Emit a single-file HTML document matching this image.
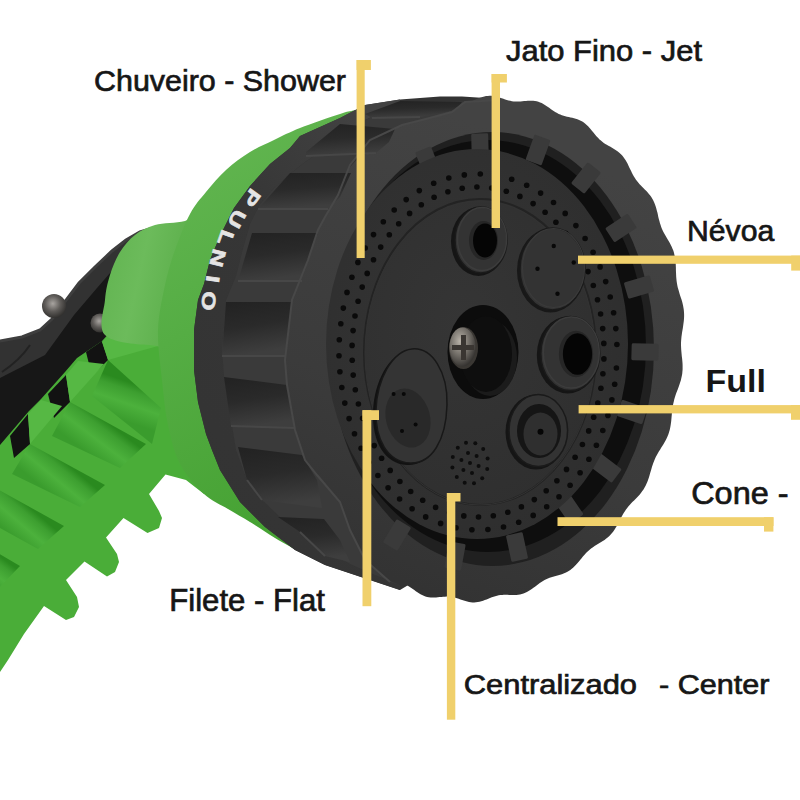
<!DOCTYPE html>
<html><head><meta charset="utf-8">
<style>
html,body{margin:0;padding:0;background:#fff;width:800px;height:800px;overflow:hidden}
svg{display:block;position:absolute;left:0;top:0}
</style></head><body>
<svg width="800" height="800" viewBox="0 0 800 800">
<defs>
<linearGradient id="gneck" x1="0" y1="0" x2="1" y2="0.3">
<stop offset="0" stop-color="#5fb24e"/><stop offset="0.45" stop-color="#6cbb5b"/><stop offset="1" stop-color="#56aa45"/></linearGradient>
<linearGradient id="gflange" x1="0" y1="0" x2="0.3" y2="1">
<stop offset="0" stop-color="#66b854"/><stop offset="0.5" stop-color="#55ad44"/><stop offset="1" stop-color="#46a233"/></linearGradient>
<linearGradient id="gcell" x1="0" y1="0" x2="1" y2="0">
<stop offset="0" stop-color="#2e9224"/><stop offset="0.55" stop-color="#4cbd3b"/><stop offset="1" stop-color="#38a22c"/></linearGradient>
<linearGradient id="ghandle" x1="0" y1="0" x2="0.6" y2="0.8">
<stop offset="0" stop-color="#3e3e3e"/><stop offset="0.45" stop-color="#333"/><stop offset="0.55" stop-color="#1a1a1a"/><stop offset="1" stop-color="#141414"/></linearGradient>
<radialGradient id="gscrew" cx="0.4" cy="0.35" r="0.7">
<stop offset="0" stop-color="#b8b2a8"/><stop offset="0.55" stop-color="#6e6a64"/><stop offset="1" stop-color="#2e2c2a"/></radialGradient>
<linearGradient id="gpocket" x1="0" y1="0" x2="0.2" y2="1"><stop offset="0" stop-color="#222"/><stop offset="0.5" stop-color="#2a2a2a"/><stop offset="1" stop-color="#3e3e3e"/></linearGradient>
<linearGradient id="grim" x1="0.3" y1="0" x2="0" y2="1"><stop offset="0" stop-color="#434343"/><stop offset="0.55" stop-color="#3b3b3b"/><stop offset="1" stop-color="#303030"/></linearGradient>
<linearGradient id="gband" x1="0.8" y1="0" x2="0.2" y2="1"><stop offset="0" stop-color="#424242"/><stop offset="0.4" stop-color="#363636"/><stop offset="1" stop-color="#333"/></linearGradient>
<radialGradient id="gbolt" cx="0.45" cy="0.4" r="0.65"><stop offset="0" stop-color="#a8a4a0"/><stop offset="0.5" stop-color="#5e5b58"/><stop offset="1" stop-color="#2a2927"/></radialGradient>
<linearGradient id="glug" x1="0" y1="0" x2="1" y2="0">
<stop offset="0" stop-color="#2c2c2c"/><stop offset="0.5" stop-color="#3a3a3a"/><stop offset="1" stop-color="#343434"/></linearGradient>
<radialGradient id="gplate" cx="0.45" cy="0.45" r="0.6">
<stop offset="0" stop-color="#353535"/><stop offset="1" stop-color="#2e2e2e"/></radialGradient>
<linearGradient id="gboss" x1="0" y1="0" x2="1" y2="1">
<stop offset="0" stop-color="#3a3a3a"/><stop offset="1" stop-color="#262626"/></linearGradient>
</defs>
<rect width="800" height="800" fill="#ffffff"/>

<polygon points="0.0,341.0 22.0,337.0 40.0,330.0 52.0,319.0 79.0,283.0 95.0,267.0 112.0,251.0 126.0,240.0 140.0,232.0 165.0,226.0 210.0,226.0 210.0,420.0 0.0,540.0" fill="#171717"/>
<polygon points="0.0,341.0 22.0,337.0 40.0,330.0 52.0,319.0 79.0,283.0 95.0,267.0 112.0,251.0 126.0,240.0 140.0,232.0 150.0,229.0 117.0,265.0 97.0,288.0 74.0,315.0 45.0,355.0 0.0,378.0" fill="#323232"/>
<polyline points="0.0,341.0 22.0,337.0 40.0,330.0 52.0,319.0 79.0,283.0 95.0,267.0 112.0,251.0 126.0,240.0 140.0,232.0 150.0,229.0" fill="none" stroke="#3e3e3e" stroke-width="3"/>
<path d="M2,372 Q20,360 30,345" stroke="#222" stroke-width="2" fill="none"/>
<circle cx="54" cy="306" r="12" fill="url(#gbolt)"/>
<circle cx="100" cy="323" r="9.5" fill="url(#gbolt)"/>
<polygon points="-20.0,470.0 0.0,445.0 29.0,411.0 41.0,399.0 65.0,372.0 77.0,358.0 102.0,341.0 112.0,330.0 160.0,330.0 175.0,420.0 200.0,470.0 204.0,494.0 186.0,480.0 165.5,474.5 149.0,494.0 159.0,511.0 162.0,518.0 159.0,528.0 147.5,533.0 123.5,518.0 106.0,537.5 117.0,554.0 119.0,562.0 115.0,572.0 107.0,576.5 84.5,561.5 66.0,580.0 77.0,597.0 79.0,607.0 74.0,617.0 66.0,620.0 44.0,606.0 24.0,634.0 8.0,660.0 0.0,672.0" fill="#4aad38"/>
<linearGradient id="gc0" gradientUnits="userSpaceOnUse" x1="134.5" y1="384.0" x2="122.0" y2="420.0"><stop offset="0" stop-color="#2a8a1f"/><stop offset="0.2" stop-color="#3d9f30"/><stop offset="0.55" stop-color="#4cb13c"/><stop offset="1" stop-color="#3a9c2d"/></linearGradient>
<polygon points="108.0,360.0 161.0,408.0 152.0,444.0 92.0,396.0" fill="url(#gc0)"/>
<linearGradient id="gc1" gradientUnits="userSpaceOnUse" x1="108.0" y1="423.0" x2="86.0" y2="452.0"><stop offset="0" stop-color="#2a8a1f"/><stop offset="0.2" stop-color="#3d9f30"/><stop offset="0.55" stop-color="#4cb13c"/><stop offset="1" stop-color="#3a9c2d"/></linearGradient>
<polygon points="70.0,402.0 146.0,444.0 120.0,468.0 52.0,436.0" fill="url(#gc1)"/>
<linearGradient id="gc2" gradientUnits="userSpaceOnUse" x1="67.5" y1="464.5" x2="46.0" y2="490.5"><stop offset="0" stop-color="#2a8a1f"/><stop offset="0.2" stop-color="#3d9f30"/><stop offset="0.55" stop-color="#4cb13c"/><stop offset="1" stop-color="#3a9c2d"/></linearGradient>
<polygon points="30.0,444.0 105.0,485.0 80.0,507.0 12.0,474.0" fill="url(#gc2)"/>
<linearGradient id="gc3" gradientUnits="userSpaceOnUse" x1="28.0" y1="506.0" x2="6.5" y2="531.5"><stop offset="0" stop-color="#2a8a1f"/><stop offset="0.2" stop-color="#3d9f30"/><stop offset="0.55" stop-color="#4cb13c"/><stop offset="1" stop-color="#3a9c2d"/></linearGradient>
<polygon points="-8.0,486.0 64.0,526.0 38.0,549.0 -25.0,514.0" fill="url(#gc3)"/>
<linearGradient id="gc4" gradientUnits="userSpaceOnUse" x1="-12.5" y1="547.0" x2="-31.5" y2="572.5"><stop offset="0" stop-color="#2a8a1f"/><stop offset="0.2" stop-color="#3d9f30"/><stop offset="0.55" stop-color="#4cb13c"/><stop offset="1" stop-color="#3a9c2d"/></linearGradient>
<polygon points="-45.0,528.0 20.0,566.0 -3.0,590.0 -60.0,555.0" fill="url(#gc4)"/>
<polygon points="86.0,352.0 102.0,341.0 108.0,360.0 92.0,376.0" fill="#121212"/>
<polygon points="48.0,394.0 66.0,375.0 70.0,402.0 54.0,418.0" fill="#121212"/>
<polygon points="10.0,436.0 28.0,414.0 30.0,444.0 14.0,458.0" fill="#121212"/>
<polygon points="-20.0,478.0 -8.0,456.0 -8.0,486.0 -20.0,496.0" fill="#121212"/>
<polygon points="102.0,342.0 113.0,330.0 156.0,332.0 158.0,346.0 108.0,360.0" fill="#56b844"/>
<polygon points="66.0,375.0 78.0,361.0 104.0,364.0 70.0,402.0" fill="#56b844"/>
<polygon points="28.0,414.0 41.0,400.0 62.0,406.0 30.0,444.0" fill="#56b844"/>
<path d="M105.0,335.0 C97.5,327.5 104.2,310.0 105.0,300.0 C105.8,290.0 107.5,283.0 110.0,275.0 C112.5,267.0 115.8,258.7 120.0,252.0 C124.2,245.3 129.2,239.5 135.0,235.0 C140.8,230.5 146.7,227.3 155.0,225.0 C163.3,222.7 175.8,223.2 185.0,221.0 C194.2,218.8 207.5,192.2 210.0,212.0 C212.5,231.8 210.0,317.8 200.0,340.0 C190.0,362.2 165.8,345.8 150.0,345.0 C134.2,344.2 112.5,342.5 105.0,335.0Z" fill="url(#gneck)"/>
<path d="M392.0,104.0 C386.0,105.0 364.7,108.3 356.0,110.0 C347.3,111.7 349.3,111.0 340.0,114.0 C330.7,117.0 311.0,123.7 300.0,128.0 C289.0,132.3 282.3,136.0 274.0,140.0 C265.7,144.0 258.0,147.0 250.0,152.0 C242.0,157.0 233.3,163.3 226.0,170.0 C218.7,176.7 212.0,184.7 206.0,192.0 C200.0,199.3 195.2,204.3 190.0,214.0 C184.8,223.7 179.2,238.2 175.0,250.0 C170.8,261.8 167.8,271.7 165.0,285.0 C162.2,298.3 158.5,314.2 158.0,330.0 C157.5,345.8 160.3,364.2 162.0,380.0 C163.7,395.8 165.0,411.0 168.0,425.0 C171.0,439.0 174.0,452.5 180.0,464.0 C186.0,475.5 196.0,486.5 204.0,494.0 C212.0,501.5 220.3,504.3 228.0,509.0 C235.7,513.7 242.2,517.2 250.0,522.0 C257.8,526.8 266.7,533.0 275.0,538.0 C283.3,543.0 295.8,549.7 300.0,552.0 L330,500 L300,300 L380,140 Z" fill="url(#gflange)"/>
<polygon points="440.0,96.5 400.0,99.5 365.0,105.0 340.0,118.0 300.0,136.0 290.0,148.0 270.0,164.0 250.0,186.0 234.0,208.0 220.0,236.0 210.0,260.0 204.0,284.0 198.0,300.0 194.0,330.0 194.0,370.0 198.0,402.0 206.0,434.0 212.0,450.0 220.0,470.0 240.0,502.0 265.0,527.0 295.0,550.0 325.0,565.0 355.0,575.0 400.0,590.0 450.0,560.0 490.0,140.0 485.0,98.0 462.0,96.5" fill="#333"/>
<path d="M681.8,376.1 L681.3,378.3 L680.8,380.5 L680.1,382.6 L679.4,384.7 L678.7,386.8 L677.9,388.9 L677.1,391.0 L676.3,393.0 L675.6,395.1 L674.9,397.2 L674.3,399.3 L673.8,401.4 L673.3,403.5 L672.9,405.6 L672.5,407.8 L672.3,410.0 L672.0,412.2 L671.8,414.4 L671.6,416.7 L671.4,418.9 L671.2,421.2 L670.9,423.4 L670.6,425.6 L670.2,427.8 L669.7,430.0 L669.1,432.1 L668.4,434.2 L667.6,436.2 L666.7,438.2 L665.7,440.2 L664.7,442.1 L663.6,443.9 L662.5,445.8 L661.3,447.6 L660.2,449.4 L659.0,451.2 L658.0,453.1 L656.9,454.9 L655.9,456.8 L655.0,458.7 L654.2,460.7 L653.4,462.7 L652.7,464.7 L652.0,466.8 L651.4,468.9 L650.8,471.1 L650.1,473.2 L649.5,475.4 L648.9,477.5 L648.2,479.6 L647.4,481.7 L646.5,483.7 L645.6,485.7 L644.6,487.6 L643.5,489.4 L642.3,491.1 L641.1,492.8 L639.8,494.4 L638.4,496.0 L637.0,497.5 L635.5,498.9 L634.1,500.4 L632.6,501.8 L631.2,503.3 L629.9,504.8 L628.5,506.3 L627.2,507.9 L626.0,509.5 L624.9,511.2 L623.7,513.0 L622.7,514.8 L621.6,516.7 L620.6,518.6 L619.6,520.5 L618.6,522.4 L617.6,524.4 L616.6,526.3 L615.5,528.1 L614.3,529.9 L613.1,531.7 L611.8,533.3 L610.5,534.8 L609.1,536.2 L607.6,537.6 L606.0,538.8 L604.5,540.0 L602.8,541.1 L601.2,542.1 L599.5,543.1 L597.9,544.1 L596.2,545.1 L594.6,546.1 L593.0,547.2 L591.4,548.3 L589.9,549.5 L588.5,550.8 L587.0,552.1 L585.6,553.6 L584.3,555.1 L582.9,556.6 L581.6,558.2 L580.3,559.8 L578.9,561.4 L577.6,563.0 L576.2,564.6 L574.8,566.0 L573.3,567.4 L571.8,568.7 L570.3,569.9 L568.7,571.0 L567.0,572.0 L565.4,572.8 L563.6,573.5 L561.9,574.2 L560.1,574.7 L558.4,575.3 L556.6,575.7 L554.8,576.2 L553.0,576.7 L551.3,577.3 L549.6,577.8 L547.9,578.5 L546.2,579.3 L544.6,580.1 L543.0,581.0 L541.4,582.0 L539.8,583.1 L538.2,584.3 L536.6,585.5 L535.0,586.7 L533.4,587.8 L531.8,589.0 L530.2,590.1 L528.6,591.1 L526.9,592.0 L525.2,592.8 L523.5,593.5 L521.8,594.0 L520.0,594.4 L518.2,594.7 L516.4,594.9 L514.6,594.9 L512.8,595.0 L511.0,594.9 L509.2,594.9 L507.5,594.8 L505.7,594.8 L503.9,594.8 L502.2,594.9 L500.4,595.1 L498.7,595.3 L497.0,595.7 L495.2,596.2 L493.5,596.7 L491.8,597.3 L490.0,598.0 L488.3,598.7 L486.6,599.4 L484.8,600.1 L483.1,600.7 L481.3,601.3 L479.5,601.8 L477.8,602.1 L476.0,602.3 L474.2,602.4 L472.5,602.4 L470.7,602.2 L469.0,602.0 L467.2,601.6 L465.5,601.1 L463.8,600.5 L462.1,600.0 L460.4,599.4 L458.7,598.8 L457.0,598.2 L455.3,597.8 L453.6,597.4 L451.9,597.0 L450.2,596.8 L448.4,596.7 L446.7,596.6 L444.9,596.7 L443.2,596.8 L441.4,596.9 L439.6,597.1 L437.8,597.3 L436.0,597.4 L434.2,597.5 L432.4,597.5 L430.6,597.4 L428.8,597.2 L427.1,596.9 L425.4,596.4 L423.7,595.8 L422.1,595.1 L420.5,594.2 L418.9,593.3 L417.4,592.3 L415.8,591.2 L414.3,590.1 L412.8,589.0 L411.3,587.9 L409.8,586.9 L408.2,586.0 L406.7,585.1 L405.1,584.3 L403.5,583.6 L401.9,582.9 L400.2,582.4 L398.5,581.9 L396.8,581.5 L395.0,581.2 L393.3,580.8 L391.5,580.4 L389.8,580.0 L388.1,579.5 L386.4,579.0 L384.7,578.3 L383.1,577.5 L381.5,576.6 L380.0,575.6 L378.5,574.5 L377.1,573.2 L375.7,571.9 L374.4,570.5 L373.1,569.0 L371.9,567.5 L370.6,566.0 L369.4,564.4 L368.2,562.9 L366.9,561.5 L365.6,560.1 L364.3,558.8 L362.9,557.6 L361.5,556.4 L360.0,555.3 L358.5,554.3 L357.0,553.4 L355.4,552.5 L353.8,551.6 L352.2,550.7 L350.6,549.8 L349.0,548.8 L347.5,547.8 L346.0,546.7 L344.5,545.5 L343.1,544.3 L341.8,542.9 L340.6,541.4 L339.4,539.8 L338.3,538.1 L337.3,536.4 L336.3,534.6 L335.4,532.7 L334.5,530.8 L333.6,529.0 L332.7,527.1 L331.8,525.3 L330.9,523.5 L329.9,521.7 L328.9,520.1 L327.8,518.5 L326.6,516.9 L325.4,515.4 L324.2,514.0 L322.9,512.6 L321.5,511.3 L320.2,509.9 L318.8,508.5 L317.4,507.2 L316.1,505.7 L314.9,504.2 L313.6,502.7 L312.5,501.1 L311.5,499.4 L310.5,497.6 L309.6,495.7 L308.8,493.8 L308.1,491.8 L307.5,489.8 L307.0,487.7 L306.4,485.6 L305.9,483.5 L305.5,481.3 L305.0,479.2 L304.4,477.2 L303.9,475.1 L303.2,473.1 L302.6,471.2 L301.8,469.3 L301.0,467.5 L300.1,465.6 L299.1,463.9 L298.1,462.1 L297.1,460.4 L296.1,458.6 L295.0,456.9 L294.0,455.1 L293.0,453.3 L292.1,451.4 L291.3,449.5 L290.5,447.6 L289.9,445.6 L289.4,443.5 L288.9,441.4 L288.6,439.3 L288.3,437.1 L288.1,434.9 L288.0,432.6 L287.9,430.4 L287.9,428.1 L287.8,425.9 L287.7,423.7 L287.6,421.5 L287.4,419.3 L287.2,417.2 L286.9,415.1 L286.5,413.0 L286.1,410.9 L285.5,408.9 L284.9,406.9 L284.3,404.8 L283.7,402.8 L283.0,400.8 L282.3,398.7 L281.7,396.7 L281.2,394.6 L280.7,392.5 L280.3,390.3 L280.0,388.2 L279.8,386.0 L279.7,383.8 L279.7,381.6 L279.8,379.4 L280.0,377.1 L280.3,374.9 L280.6,372.7 L280.9,370.4 L281.3,368.2 L281.7,366.0 L282.0,363.8 L282.3,361.6 L282.5,359.4 L282.7,357.2 L282.8,355.1 L282.8,352.9 L282.7,350.7 L282.6,348.6 L282.4,346.4 L282.2,344.2 L282.0,342.0 L281.7,339.8 L281.5,337.6 L281.3,335.3 L281.2,333.1 L281.2,330.9 L281.2,328.7 L281.4,326.5 L281.6,324.3 L282.0,322.1 L282.5,319.9 L283.0,317.7 L283.7,315.6 L284.4,313.5 L285.1,311.4 L285.9,309.3 L286.7,307.2 L287.5,305.2 L288.2,303.1 L288.9,301.0 L289.5,298.9 L290.0,296.8 L290.5,294.7 L290.9,292.6 L291.3,290.4 L291.5,288.2 L291.8,286.0 L292.0,283.8 L292.2,281.5 L292.4,279.3 L292.6,277.0 L292.9,274.8 L293.2,272.6 L293.6,270.4 L294.1,268.2 L294.7,266.1 L295.4,264.0 L296.2,262.0 L297.1,260.0 L298.1,258.0 L299.1,256.1 L300.2,254.3 L301.3,252.4 L302.5,250.6 L303.6,248.8 L304.8,247.0 L305.8,245.1 L306.9,243.3 L307.9,241.4 L308.8,239.5 L309.6,237.5 L310.4,235.5 L311.1,233.5 L311.8,231.4 L312.4,229.3 L313.0,227.1 L313.7,225.0 L314.3,222.8 L314.9,220.7 L315.6,218.6 L316.4,216.5 L317.3,214.5 L318.2,212.5 L319.2,210.6 L320.3,208.8 L321.5,207.1 L322.7,205.4 L324.0,203.8 L325.4,202.2 L326.8,200.7 L328.3,199.3 L329.7,197.8 L331.2,196.4 L332.6,194.9 L333.9,193.4 L335.3,191.9 L336.6,190.3 L337.8,188.7 L338.9,187.0 L340.1,185.2 L341.1,183.4 L342.2,181.5 L343.2,179.6 L344.2,177.7 L345.2,175.8 L346.2,173.8 L347.2,171.9 L348.3,170.1 L349.5,168.3 L350.7,166.5 L352.0,164.9 L353.3,163.4 L354.7,162.0 L356.2,160.6 L357.8,159.4 L359.3,158.2 L361.0,157.1 L362.6,156.1 L364.3,155.1 L365.9,154.1 L367.6,153.1 L369.2,152.1 L370.8,151.0 L372.4,149.9 L373.9,148.7 L375.3,147.4 L376.8,146.1 L378.2,144.6 L379.5,143.1 L380.9,141.6 L382.2,140.0 L383.5,138.4 L384.9,136.8 L386.2,135.2 L387.6,133.6 L389.0,132.2 L390.5,130.8 L392.0,129.5 L393.5,128.3 L395.1,127.2 L396.8,126.2 L398.4,125.4 L400.2,124.7 L401.9,124.0 L403.7,123.5 L405.4,122.9 L407.2,122.5 L409.0,122.0 L410.8,121.5 L412.5,120.9 L414.2,120.4 L415.9,119.7 L417.6,118.9 L419.2,118.1 L420.8,117.2 L422.4,116.2 L424.0,115.1 L425.6,113.9 L427.2,112.7 L428.8,111.5 L430.4,110.4 L432.0,109.2 L433.6,108.1 L435.2,107.1 L436.9,106.2 L438.6,105.4 L440.3,104.7 L442.0,104.2 L443.8,103.8 L445.6,103.5 L447.4,103.3 L449.2,103.3 L451.0,103.2 L452.8,103.3 L454.6,103.3 L456.3,103.4 L458.1,103.4 L459.9,103.4 L461.6,103.3 L463.4,103.1 L465.1,102.9 L466.8,102.5 L468.6,102.0 L470.3,101.5 L472.0,100.9 L473.8,100.2 L475.5,99.5 L477.2,98.8 L479.0,98.1 L480.7,97.5 L482.5,96.9 L484.3,96.4 L486.0,96.1 L487.8,95.9 L489.6,95.8 L491.3,95.8 L493.1,96.0 L494.8,96.2 L496.6,96.6 L498.3,97.1 L500.0,97.7 L501.7,98.2 L503.4,98.8 L505.1,99.4 L506.8,100.0 L508.5,100.4 L510.2,100.8 L511.9,101.2 L513.6,101.4 L515.4,101.5 L517.1,101.6 L518.9,101.5 L520.6,101.4 L522.4,101.3 L524.2,101.1 L526.0,100.9 L527.8,100.8 L529.6,100.7 L531.4,100.7 L533.2,100.8 L535.0,101.0 L536.7,101.3 L538.4,101.8 L540.1,102.4 L541.7,103.1 L543.3,104.0 L544.9,104.9 L546.4,105.9 L548.0,107.0 L549.5,108.1 L551.0,109.2 L552.5,110.3 L554.0,111.3 L555.6,112.2 L557.1,113.1 L558.7,113.9 L560.3,114.6 L561.9,115.3 L563.6,115.8 L565.3,116.3 L567.0,116.7 L568.8,117.0 L570.5,117.4 L572.3,117.8 L574.0,118.2 L575.7,118.7 L577.4,119.2 L579.1,119.9 L580.7,120.7 L582.3,121.6 L583.8,122.6 L585.3,123.7 L586.7,125.0 L588.1,126.3 L589.4,127.7 L590.7,129.2 L591.9,130.7 L593.2,132.2 L594.4,133.8 L595.6,135.3 L596.9,136.7 L598.2,138.1 L599.5,139.4 L600.9,140.6 L602.3,141.8 L603.8,142.9 L605.3,143.9 L606.8,144.8 L608.4,145.7 L610.0,146.6 L611.6,147.5 L613.2,148.4 L614.8,149.4 L616.3,150.4 L617.8,151.5 L619.3,152.7 L620.7,153.9 L622.0,155.3 L623.2,156.8 L624.4,158.4 L625.5,160.1 L626.5,161.8 L627.5,163.6 L628.4,165.5 L629.3,167.4 L630.2,169.2 L631.1,171.1 L632.0,172.9 L632.9,174.7 L633.9,176.5 L634.9,178.1 L636.0,179.7 L637.2,181.3 L638.4,182.8 L639.6,184.2 L640.9,185.6 L642.3,186.9 L643.6,188.3 L645.0,189.7 L646.4,191.0 L647.7,192.5 L648.9,194.0 L650.2,195.5 L651.3,197.1 L652.3,198.8 L653.3,200.6 L654.2,202.5 L655.0,204.4 L655.7,206.4 L656.3,208.4 L656.8,210.5 L657.4,212.6 L657.9,214.7 L658.3,216.9 L658.8,219.0 L659.4,221.0 L659.9,223.1 L660.6,225.1 L661.2,227.0 L662.0,228.9 L662.8,230.7 L663.7,232.6 L664.7,234.3 L665.7,236.1 L666.7,237.8 L667.7,239.6 L668.8,241.3 L669.8,243.1 L670.8,244.9 L671.7,246.8 L672.5,248.7 L673.3,250.6 L673.9,252.6 L674.4,254.7 L674.9,256.8 L675.2,258.9 L675.5,261.1 L675.7,263.3 L675.8,265.6 L675.9,267.8 L675.9,270.1 L676.0,272.3 L676.1,274.5 L676.2,276.7 L676.4,278.9 L676.6,281.0 L676.9,283.1 L677.3,285.2 L677.7,287.3 L678.3,289.3 L678.9,291.3 L679.5,293.4 L680.1,295.4 L680.8,297.4 L681.5,299.5 L682.1,301.5 L682.6,303.6 L683.1,305.7 L683.5,307.9 L683.8,310.0 L684.0,312.2 L684.1,314.4 L684.1,316.6 L684.0,318.8 L683.8,321.1 L683.5,323.3 L683.2,325.5 L682.9,327.8 L682.5,330.0 L682.1,332.2 L681.8,334.4 L681.5,336.6 L681.3,338.8 L681.1,341.0 L681.0,343.1 L681.0,345.3 L681.1,347.5 L681.2,349.6 L681.4,351.8 L681.6,354.0 L681.8,356.2 L682.1,358.4 L682.3,360.6 L682.5,362.9 L682.6,365.1 L682.6,367.3 L682.6,369.5 L682.4,371.7 L682.2,373.9Z" fill="url(#grim)"/>
<polygon points="400.0,99.5 365.0,105.0 340.0,118.0 300.0,136.0 290.0,148.0 270.0,164.0 250.0,186.0 234.0,208.0 220.0,236.0 210.0,260.0 204.0,284.0 198.0,300.0 194.0,330.0 194.0,370.0 198.0,402.0 206.0,434.0 212.0,450.0 220.0,470.0 240.0,502.0 265.0,527.0 295.0,550.0 325.0,565.0 355.0,575.0 400.0,590.0 400.0,585.0 375.0,575.0 350.0,564.0 325.0,550.0 300.0,532.0 280.0,517.0 262.0,500.0 247.0,480.0 236.0,450.0 230.0,414.0 224.0,376.0 222.0,350.0 226.0,300.0 236.0,276.0 242.0,252.0 250.0,224.0 260.0,204.0 274.0,188.0 290.0,174.0 305.0,162.0 330.0,145.0 365.0,120.0 400.0,104.0" fill="url(#gband)"/>
<polygon points="400.0,104.0 365.0,120.0 330.0,145.0 305.0,162.0 290.0,174.0 274.0,188.0 260.0,204.0 250.0,224.0 242.0,252.0 236.0,276.0 226.0,300.0 222.0,350.0 224.0,376.0 230.0,414.0 236.0,450.0 247.0,480.0 262.0,500.0 280.0,517.0 300.0,532.0 325.0,550.0 350.0,564.0 375.0,575.0 400.0,585.0 390.0,582.0 365.0,560.0 350.0,530.0 340.0,502.0 317.0,475.0 305.0,460.0 295.0,430.0 287.0,385.0 285.0,360.0 292.0,300.0 308.0,260.0 318.0,230.0 325.0,217.0 338.0,195.0 350.0,165.0 370.0,140.0 402.0,125.0 422.0,120.0 452.0,112.0 465.0,102.0 500.0,100.0" fill="#3a3a3a"/>
<polygon points="365.0,114.0 400.0,101.0 462.0,102.0 456.0,110.0 420.0,117.0 372.0,118.0" fill="url(#gpocket)"/>
<polyline points="420.0,117.0 372.0,118.0" stroke="#474747" stroke-width="2" fill="none"/>
<polygon points="306.0,152.0 340.0,124.0 395.0,129.0 389.0,142.0 376.0,153.0 306.0,156.0" fill="url(#gpocket)"/>
<polyline points="376.0,153.0 306.0,156.0" stroke="#474747" stroke-width="2" fill="none"/>
<polygon points="290.0,173.0 351.0,173.0 340.0,197.0 328.0,209.0 258.0,209.0" fill="url(#gpocket)"/>
<polyline points="328.0,209.0 258.0,209.0" stroke="#474747" stroke-width="2" fill="none"/>
<polygon points="252.0,233.0 318.0,233.0 308.0,258.0 302.0,281.0 238.0,281.0" fill="url(#gpocket)"/>
<polyline points="302.0,281.0 238.0,281.0" stroke="#474747" stroke-width="2" fill="none"/>
<polygon points="226.0,302.0 292.0,302.0 285.0,356.0 222.0,356.0" fill="url(#gpocket)"/>
<polyline points="285.0,356.0 222.0,356.0" stroke="#474747" stroke-width="2" fill="none"/>
<polygon points="224.0,377.0 287.0,385.0 295.0,428.0 231.0,426.0" fill="url(#gpocket)"/>
<polyline points="295.0,428.0 231.0,426.0" stroke="#474747" stroke-width="2" fill="none"/>
<polygon points="238.0,447.0 302.0,455.0 317.0,480.0 322.0,508.0 262.0,500.0 247.0,480.0" fill="url(#gpocket)"/>
<polyline points="262.0,500.0 247.0,480.0" stroke="#474747" stroke-width="2" fill="none"/>
<polygon points="278.0,517.0 324.0,519.0 340.0,540.0 350.0,562.0 325.0,556.0 300.0,532.0" fill="url(#gpocket)"/>
<polyline points="325.0,556.0 300.0,532.0" stroke="#474747" stroke-width="2" fill="none"/>
<polyline points="500.0,100.0 465.0,102.0 452.0,112.0 422.0,120.0 402.0,125.0 370.0,140.0 350.0,165.0 338.0,195.0 325.0,217.0 318.0,230.0 308.0,260.0 292.0,300.0 285.0,360.0 287.0,385.0 295.0,430.0 305.0,460.0 317.0,475.0 340.0,502.0 350.0,530.0 365.0,560.0 390.0,582.0" stroke="#484848" stroke-width="2" fill="none"/>
<ellipse cx="492" cy="349" rx="162" ry="217" fill="#202020"/>
<ellipse cx="488" cy="346" rx="158" ry="206" fill="#0e0e0e"/>
<rect x="419.5" y="148.5" width="17" height="27" rx="1.5" fill="#3a3a3a" transform="rotate(-201.8 428.0 162.0)"/>
<rect x="471.5" y="133.5" width="17" height="27" rx="1.5" fill="#3a3a3a" transform="rotate(-181.5 480.0 147.0)"/>
<rect x="529.5" y="136.5" width="17" height="27" rx="1.5" fill="#3a3a3a" transform="rotate(-160.1 538.0 150.0)"/>
<rect x="577.5" y="164.5" width="17" height="27" rx="1.5" fill="#3a3a3a" transform="rotate(-141.5 586.0 178.0)"/>
<rect x="612.5" y="214.5" width="17" height="27" rx="1.5" fill="#3a3a3a" transform="rotate(-123.3 621.0 228.0)"/>
<rect x="630.5" y="273.5" width="17" height="27" rx="1.5" fill="#3a3a3a" transform="rotate(-106.2 639.0 287.0)"/>
<rect x="636.5" y="338.5" width="17" height="27" rx="1.5" fill="#3a3a3a" transform="rotate(-88.4 645.0 352.0)"/>
<rect x="623.5" y="398.5" width="17" height="27" rx="1.5" fill="#3a3a3a" transform="rotate(-71.2 632.0 412.0)"/>
<rect x="597.5" y="454.5" width="17" height="27" rx="1.5" fill="#3a3a3a" transform="rotate(-52.7 606.0 468.0)"/>
<rect x="560.5" y="494.5" width="17" height="27" rx="1.5" fill="#3a3a3a" transform="rotate(-34.5 569.0 508.0)"/>
<rect x="508.5" y="533.5" width="17" height="27" rx="1.5" fill="#3a3a3a" transform="rotate(-12.2 517.0 547.0)"/>
<rect x="446.5" y="542.5" width="17" height="27" rx="1.5" fill="#3a3a3a" transform="rotate(10.3 455.0 556.0)"/>
<rect x="388.5" y="521.5" width="17" height="27" rx="1.5" fill="#3a3a3a" transform="rotate(31.1 397.0 535.0)"/>
<ellipse cx="477" cy="344" rx="151" ry="195" fill="url(#gplate)"/>
<ellipse cx="480" cy="352" rx="116" ry="153" fill="none" stroke="#232323" stroke-width="2"/>
<ellipse cx="480" cy="353" rx="115" ry="152" fill="none" stroke="#333" stroke-width="1"/>
<g fill="#0a0a0a"><circle cx="616.4" cy="368.0" r="2.8"/><circle cx="614.7" cy="384.3" r="2.8"/><circle cx="611.9" cy="399.9" r="2.8"/><circle cx="607.9" cy="415.4" r="2.8"/><circle cx="602.8" cy="430.5" r="2.8"/><circle cx="596.4" cy="445.2" r="2.8"/><circle cx="588.9" cy="459.3" r="2.8"/><circle cx="580.1" cy="472.8" r="2.8"/><circle cx="570.1" cy="485.3" r="2.8"/><circle cx="559.0" cy="496.7" r="2.8"/><circle cx="546.7" cy="506.7" r="2.8"/><circle cx="533.2" cy="515.4" r="2.8"/><circle cx="518.7" cy="522.2" r="2.8"/><circle cx="503.5" cy="527.0" r="2.8"/><circle cx="487.9" cy="529.5" r="2.8"/><circle cx="471.9" cy="529.8" r="2.8"/><circle cx="456.0" cy="527.7" r="2.8"/><circle cx="440.6" cy="523.4" r="2.8"/><circle cx="425.7" cy="516.9" r="2.8"/><circle cx="412.1" cy="508.7" r="2.8"/><circle cx="399.6" cy="499.0" r="2.8"/><circle cx="388.1" cy="487.7" r="2.8"/><circle cx="377.9" cy="475.5" r="2.8"/><circle cx="368.9" cy="462.3" r="2.8"/><circle cx="361.1" cy="448.3" r="2.8"/><circle cx="354.5" cy="433.8" r="2.8"/><circle cx="349.1" cy="418.6" r="2.8"/><circle cx="344.8" cy="403.1" r="2.8"/><circle cx="341.8" cy="387.5" r="2.8"/><circle cx="339.9" cy="371.7" r="2.8"/><circle cx="339.0" cy="355.7" r="2.8"/><circle cx="339.3" cy="339.7" r="2.8"/><circle cx="340.8" cy="323.8" r="2.8"/><circle cx="343.3" cy="308.1" r="2.8"/><circle cx="347.0" cy="292.4" r="2.8"/><circle cx="351.9" cy="277.2" r="2.8"/><circle cx="357.9" cy="262.4" r="2.8"/><circle cx="365.2" cy="248.0" r="2.8"/><circle cx="373.5" cy="234.6" r="2.8"/><circle cx="383.3" cy="221.7" r="2.8"/><circle cx="394.2" cy="210.0" r="2.8"/><circle cx="406.2" cy="199.6" r="2.8"/><circle cx="419.3" cy="190.6" r="2.8"/><circle cx="433.7" cy="183.3" r="2.8"/><circle cx="448.8" cy="178.0" r="2.8"/><circle cx="464.3" cy="174.9" r="2.8"/><circle cx="480.3" cy="174.0" r="2.8"/><circle cx="496.3" cy="175.5" r="2.8"/><circle cx="511.7" cy="179.3" r="2.8"/><circle cx="526.7" cy="185.3" r="2.8"/><circle cx="540.6" cy="193.1" r="2.8"/><circle cx="553.5" cy="202.5" r="2.8"/><circle cx="565.2" cy="213.4" r="2.8"/><circle cx="575.9" cy="225.6" r="2.8"/><circle cx="585.1" cy="238.5" r="2.8"/><circle cx="593.1" cy="252.3" r="2.8"/><circle cx="600.1" cy="266.9" r="2.8"/><circle cx="605.7" cy="281.6" r="2.8"/><circle cx="610.2" cy="297.0" r="2.8"/><circle cx="613.6" cy="312.8" r="2.8"/><circle cx="615.8" cy="328.6" r="2.8"/><circle cx="616.9" cy="344.5" r="2.8"/><circle cx="603.9" cy="358.9" r="2.8"/><circle cx="602.9" cy="373.7" r="2.8"/><circle cx="600.9" cy="388.3" r="2.8"/><circle cx="597.8" cy="403.0" r="2.8"/><circle cx="593.7" cy="417.2" r="2.8"/><circle cx="588.7" cy="430.9" r="2.8"/><circle cx="582.4" cy="444.5" r="2.8"/><circle cx="575.1" cy="457.2" r="2.8"/><circle cx="566.5" cy="469.4" r="2.8"/><circle cx="556.9" cy="480.7" r="2.8"/><circle cx="546.2" cy="490.8" r="2.8"/><circle cx="534.3" cy="499.6" r="2.8"/><circle cx="521.4" cy="506.9" r="2.8"/><circle cx="507.8" cy="512.3" r="2.8"/><circle cx="493.3" cy="515.8" r="2.8"/><circle cx="478.5" cy="517.0" r="2.8"/><circle cx="463.8" cy="515.9" r="2.8"/><circle cx="449.5" cy="512.7" r="2.8"/><circle cx="435.6" cy="507.4" r="2.8"/><circle cx="422.7" cy="500.3" r="2.8"/><circle cx="410.7" cy="491.5" r="2.8"/><circle cx="399.9" cy="481.5" r="2.8"/><circle cx="390.2" cy="470.4" r="2.8"/><circle cx="381.6" cy="458.2" r="2.8"/><circle cx="374.2" cy="445.6" r="2.8"/><circle cx="367.8" cy="432.1" r="2.8"/><circle cx="362.6" cy="418.2" r="2.8"/><circle cx="358.4" cy="404.0" r="2.8"/><circle cx="355.3" cy="389.7" r="2.8"/><circle cx="353.2" cy="375.1" r="2.8"/><circle cx="352.2" cy="360.3" r="2.8"/><circle cx="352.1" cy="345.4" r="2.8"/><circle cx="353.1" cy="330.6" r="2.8"/><circle cx="355.0" cy="316.0" r="2.8"/><circle cx="358.1" cy="301.3" r="2.8"/><circle cx="362.2" cy="287.1" r="2.8"/><circle cx="367.2" cy="273.4" r="2.8"/><circle cx="373.5" cy="259.8" r="2.8"/><circle cx="380.7" cy="247.1" r="2.8"/><circle cx="389.3" cy="234.8" r="2.8"/><circle cx="398.7" cy="223.8" r="2.8"/><circle cx="409.6" cy="213.4" r="2.8"/><circle cx="421.3" cy="204.7" r="2.8"/><circle cx="434.1" cy="197.3" r="2.8"/><circle cx="447.9" cy="191.8" r="2.8"/><circle cx="462.2" cy="188.3" r="2.8"/><circle cx="476.9" cy="187.0" r="2.8"/><circle cx="491.7" cy="188.0" r="2.8"/><circle cx="506.3" cy="191.2" r="2.8"/><circle cx="519.9" cy="196.4" r="2.8"/><circle cx="533.1" cy="203.6" r="2.8"/><circle cx="545.1" cy="212.3" r="2.8"/><circle cx="555.9" cy="222.3" r="2.8"/><circle cx="565.6" cy="233.4" r="2.8"/><circle cx="574.2" cy="245.5" r="2.8"/><circle cx="581.6" cy="258.1" r="2.8"/><circle cx="588.0" cy="271.6" r="2.8"/><circle cx="593.3" cy="285.5" r="2.8"/><circle cx="597.5" cy="299.7" r="2.8"/><circle cx="600.6" cy="314.0" r="2.8"/><circle cx="602.7" cy="328.6" r="2.8"/><circle cx="603.8" cy="343.4" r="2.8"/></g>
<g fill="#0d0d0d"><circle cx="470.0" cy="463.0" r="2"/><circle cx="478.6" cy="466.1" r="2"/><circle cx="472.0" cy="473.1" r="2"/><circle cx="463.4" cy="470.0" r="2"/><circle cx="461.4" cy="459.9" r="2"/><circle cx="468.0" cy="452.9" r="2"/><circle cx="476.6" cy="456.0" r="2"/><circle cx="487.2" cy="469.1" r="2"/><circle cx="482.2" cy="478.2" r="2"/><circle cx="474.0" cy="483.2" r="2"/><circle cx="464.7" cy="482.8" r="2"/><circle cx="456.8" cy="477.1" r="2"/><circle cx="452.4" cy="467.6" r="2"/><circle cx="452.8" cy="456.9" r="2"/><circle cx="457.8" cy="447.8" r="2"/><circle cx="466.0" cy="442.8" r="2"/><circle cx="475.3" cy="443.2" r="2"/><circle cx="483.2" cy="448.9" r="2"/><circle cx="487.6" cy="458.4" r="2"/></g>
<ellipse cx="478.5" cy="241.5" rx="27.5" ry="34.5" fill="#151515"/>
<ellipse cx="481" cy="240" rx="26" ry="33" fill="#333" stroke="#1a1a1a" stroke-width="1.5"/>
<ellipse cx="482" cy="239" rx="24.5" ry="31.5" fill="none" stroke="#3c3c3c" stroke-width="1.5"/>
<ellipse cx="483.5" cy="240.5" rx="14.5" ry="19.5" fill="#262626"/>
<ellipse cx="485" cy="240.5" rx="12" ry="17" fill="#050505"/>
<ellipse cx="550.5" cy="270.5" rx="33.5" ry="42" fill="#181818"/><ellipse cx="552.5" cy="269" rx="32.5" ry="41" fill="#333" stroke="#1a1a1a" stroke-width="1.5"/><ellipse cx="553.5" cy="268" rx="31" ry="39.5" fill="none" stroke="#3a3a3a" stroke-width="1.2"/>
<circle cx="553.75" cy="246" r="2.2" fill="#080808"/>
<circle cx="537.5" cy="268.75" r="2.2" fill="#080808"/>
<circle cx="557.5" cy="293.75" r="2.2" fill="#080808"/>
<circle cx="573.75" cy="262.5" r="2.2" fill="#080808"/>
<ellipse cx="483" cy="352" rx="35.5" ry="47" fill="#0c0c0c"/><ellipse cx="490" cy="358" rx="27" ry="38" fill="#1b1b1b"/><ellipse cx="486" cy="354" rx="26" ry="38" fill="#0e0e0e"/>
<ellipse cx="463.5" cy="348" rx="14.5" ry="21" fill="#3a3733"/><ellipse cx="462.5" cy="347" rx="13" ry="19.5" fill="url(#gscrew)"/>
<path d="M452,345 L474,345 L474,350 L452,350 Z M461,335 L466,335 L466,360 L461,360 Z" fill="#3a3632"/>
<ellipse cx="567.8" cy="355.0" rx="31.0" ry="38.5" fill="#151515"/>
<ellipse cx="570.3" cy="353.5" rx="29.5" ry="37" fill="#333" stroke="#1a1a1a" stroke-width="1.5"/>
<ellipse cx="571.3" cy="352.5" rx="28.0" ry="35.5" fill="none" stroke="#3c3c3c" stroke-width="1.5"/>
<ellipse cx="576.0" cy="354" rx="17.1" ry="23.3" fill="#262626"/>
<ellipse cx="577.5" cy="354" rx="14.6" ry="20.8" fill="#050505"/>
<path d="M412,349 C432,347 448,372 447,405 C446,440 432,464 410,463 C388,462 375,440 376,410 C377,380 392,351 412,349 Z" fill="#121212" transform="translate(-3,2)"/>
<path d="M412,349 C432,347 448,372 447,405 C446,440 432,464 410,463 C388,462 375,440 376,410 C377,380 392,351 412,349 Z" fill="#343434" stroke="#181818" stroke-width="1.5"/>
<ellipse cx="408" cy="418" rx="22" ry="30" fill="#292929" transform="rotate(-15 408 418)"/>
<circle cx="393.6" cy="394" r="2" fill="#080808"/>
<circle cx="403.75" cy="394" r="2" fill="#080808"/>
<circle cx="415.6" cy="424.4" r="2" fill="#080808"/>
<circle cx="402" cy="431" r="2" fill="#080808"/>
<ellipse cx="536" cy="432" rx="30.5" ry="37.5" fill="#151515"/><ellipse cx="538.3" cy="430.6" rx="29.3" ry="36" fill="#333" stroke="#1a1a1a" stroke-width="1.5"/>
<ellipse cx="539" cy="431" rx="22" ry="27" fill="#151515"/><ellipse cx="540.5" cy="434" rx="17" ry="21.4" fill="#2f2f2f"/><circle cx="540.5" cy="431.75" r="3" fill="#050505"/>
<text x="0" y="0" font-family="Liberation Sans" font-weight="700" font-size="19" fill="#e4e4e4" stroke="#e4e4e4" stroke-width="0.6" text-anchor="middle" transform="translate(252,198) rotate(126) scale(1.3,1)" dy="6.8">P</text>
<text x="0" y="0" font-family="Liberation Sans" font-weight="700" font-size="19" fill="#e4e4e4" stroke="#e4e4e4" stroke-width="0.6" text-anchor="middle" transform="translate(237,219) rotate(118) scale(1.3,1)" dy="6.8">U</text>
<text x="0" y="0" font-family="Liberation Sans" font-weight="700" font-size="19" fill="#e4e4e4" stroke="#e4e4e4" stroke-width="0.6" text-anchor="middle" transform="translate(226,238) rotate(110) scale(1.3,1)" dy="6.8">L</text>
<text x="0" y="0" font-family="Liberation Sans" font-weight="700" font-size="19" fill="#e4e4e4" stroke="#e4e4e4" stroke-width="0.6" text-anchor="middle" transform="translate(218,258) rotate(104) scale(1.3,1)" dy="6.8">N</text>
<text x="0" y="0" font-family="Liberation Sans" font-weight="700" font-size="19" fill="#e4e4e4" stroke="#e4e4e4" stroke-width="0.6" text-anchor="middle" transform="translate(213,279) rotate(98) scale(1.3,1)" dy="6.8">I</text>
<text x="0" y="0" font-family="Liberation Sans" font-weight="700" font-size="19" fill="#e4e4e4" stroke="#e4e4e4" stroke-width="0.6" text-anchor="middle" transform="translate(209,301) rotate(95) scale(1.3,1)" dy="6.8">O</text>
<rect x="356.6" y="60" width="8.1" height="198" fill="#f0d06c"/>
<rect x="356.6" y="60" width="14.3" height="10" fill="#f0d06c"/>
<rect x="491.6" y="74" width="8.4" height="154" fill="#f0d06c"/>
<rect x="491.6" y="74" width="15.3" height="8.5" fill="#f0d06c"/>
<rect x="578" y="255.6" width="222" height="8.2" fill="#f0d06c"/>
<rect x="791.2" y="255.6" width="8.8" height="15" fill="#f0d06c"/>
<rect x="578.6" y="405.1" width="221.4" height="8.3" fill="#f0d06c"/>
<rect x="791" y="405.1" width="9" height="14.7" fill="#f0d06c"/>
<rect x="557.5" y="517.2" width="216" height="8.8" fill="#f0d06c"/>
<rect x="764" y="517.2" width="9.4" height="14.4" fill="#f0d06c"/>
<rect x="362.5" y="410.2" width="8.8" height="196" fill="#f0d06c"/>
<rect x="362.5" y="410.2" width="16.5" height="9.8" fill="#f0d06c"/>
<rect x="446.9" y="493" width="8.4" height="226.7" fill="#f0d06c"/>
<rect x="446.9" y="493" width="13.6" height="8.5" fill="#f0d06c"/>
<text x="94.0" y="91.3" font-family="Liberation Sans" font-size="30.09" font-weight="400" textLength="252.0" lengthAdjust="spacingAndGlyphs" fill="#161616" stroke="#161616" stroke-width="0.7">Chuveiro - Shower</text>
<text x="506.0" y="61.0" font-family="Liberation Sans" font-size="29.8" font-weight="400" textLength="196.0" lengthAdjust="spacingAndGlyphs" fill="#161616" stroke="#161616" stroke-width="0.7">Jato Fino - Jet</text>
<text x="687.0" y="241.4" font-family="Liberation Sans" font-size="29.65" font-weight="400" textLength="87.2" lengthAdjust="spacingAndGlyphs" fill="#161616" stroke="#161616" stroke-width="0.7">Névoa</text>
<text x="705.6" y="391.9" font-family="Liberation Sans" font-size="30.96" font-weight="700" textLength="60.4" lengthAdjust="spacingAndGlyphs" fill="#161616" stroke="#161616" stroke-width="0">Full</text>
<text x="691.2" y="504.4" font-family="Liberation Sans" font-size="31.1" font-weight="400" textLength="97.4" lengthAdjust="spacingAndGlyphs" fill="#161616" stroke="#161616" stroke-width="0.7">Cone -</text>
<text x="169.2" y="611.0" font-family="Liberation Sans" font-size="30.52" font-weight="400" textLength="155.8" lengthAdjust="spacingAndGlyphs" fill="#161616" stroke="#161616" stroke-width="0.7">Filete - Flat</text>
<text x="463.8" y="693.8" font-family="Liberation Sans" font-size="28.2" font-weight="400" textLength="173.2" lengthAdjust="spacingAndGlyphs" fill="#161616" stroke="#161616" stroke-width="0.7">Centralizado</text>
<text x="659.0" y="693.8" font-family="Liberation Sans" font-size="28.2" font-weight="400" textLength="110.4" lengthAdjust="spacingAndGlyphs" fill="#161616" stroke="#161616" stroke-width="0.7">- Center</text>
</svg></body></html>
